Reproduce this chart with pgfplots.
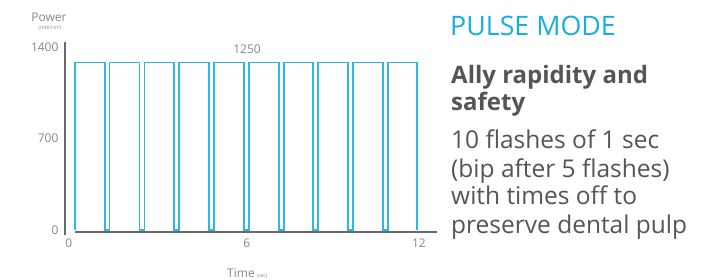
\documentclass[border=0pt]{standalone}
\usepackage{pgfplots}
\pgfplotsset{compat=1.18}
\usepackage{fontspec}
\setmainfont{Open Sans}
\definecolor{pulse}{RGB}{45,185,228}
\definecolor{titlec}{RGB}{20,175,225}
\definecolor{txt}{RGB}{85,85,85}
\definecolor{lbl}{RGB}{135,135,135}
\definecolor{axisc}{RGB}{105,105,105}
\begin{document}
\begin{tikzpicture}[x=1pt,y=1pt]
\useasboundingbox (0pt,0pt) rectangle (712pt,279pt);
\begin{axis}[at={(65pt,47pt)}, anchor=south west, scale only axis,
  width=372pt, height=190pt,
  xmin=-0.1, xmax=12.62, ymin=-15, ymax=1438,
  axis line style={draw=none}, major tick length=0pt, tick style={draw=none},
  xtick={0.03,6.12,12}, xticklabels={0,6,12}, ytick={0,700,1400},
  /pgf/number format/assume math mode=true,
  /pgf/number format/1000 sep={},
  ticklabel style={font=\fontsize{12}{12}\selectfont, text=lbl},
  yticklabel style={xshift=-3pt},
  xticklabel style={yshift=-3pt},
  clip=false]
\addplot[pulse, line width=1.5pt, line join=miter] coordinates {
(0.24,0) (0.24,1280) (1.26,1280) (1.26,0) (1.43,0) (1.43,1280)
(2.44,1280) (2.44,0) (2.61,0) (2.61,1280)
(3.62,1280) (3.62,0) (3.79,0) (3.79,1280)
(4.82,1280) (4.82,0) (4.99,0) (4.99,1280)
(6.02,1280) (6.02,0) (6.19,0) (6.19,1280)
(7.21,1280) (7.21,0) (7.38,0) (7.38,1280)
(8.38,1280) (8.38,0) (8.55,0) (8.55,1280)
(9.57,1280) (9.57,0) (9.74,0) (9.74,1280)
(10.77,1280) (10.77,0) (10.94,0) (10.94,1280)
(11.93,1280) (11.93,0)
};
\draw[axisc, line width=1.1pt] (axis cs:-0.1,-38) -- (axis cs:-0.1,1438);
\draw[axisc, line width=1.1pt] (axis cs:0.24,-15) -- (axis cs:12.62,-15);
\end{axis}
\node[anchor=base, font=\fontsize{12}{12}\selectfont, text=lbl] at (49pt,257pt) {Power};
\node[anchor=base, font=\fontsize{5}{5}\selectfont, text=lbl] at (50pt,249pt) {(mW/cm²)};
\node[anchor=base west, inner sep=0pt, font=\fontsize{12}{12}\selectfont, text=lbl] at (227pt,1.5pt) {Time\,{\fontsize{5}{5}\selectfont (sec)}};
\node[anchor=base, font=\fontsize{12}{12}\selectfont, text=lbl] at (247pt,225pt) {1250};
\node[anchor=base west, inner sep=0pt, font=\fontsize{26.8}{26.8}\selectfont, text=titlec] at (450pt,243pt) {PULSE MODE};
\begin{scope}[every node/.style={anchor=base west, inner sep=0pt, text=txt, font=\fontsize{24.5}{24.5}\selectfont}]
\node[font=\fontsize{24}{24}\selectfont\bfseries] at (451pt,196pt) {Ally rapidity and};
\node[font=\fontsize{24}{24}\selectfont\bfseries] at (451pt,168pt) {safety};
\node at (451pt,131pt) {10 flashes of 1 sec};
\node at (451pt,102pt) {(bip after 5 flashes)};
\node at (451pt,75pt) {with times off to};
\node at (451pt,46pt) {preserve dental pulp};
\end{scope}
\end{tikzpicture}
\end{document}
